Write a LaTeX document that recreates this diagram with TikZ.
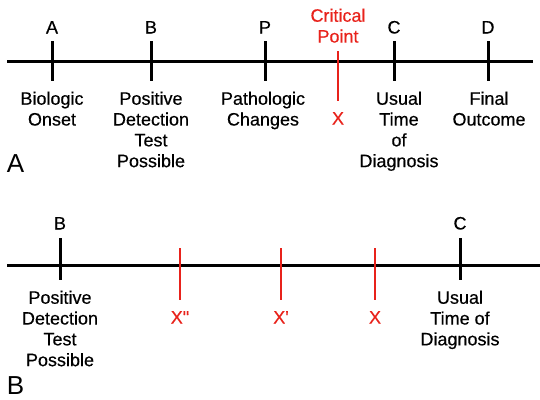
\documentclass[tikz,border=0pt]{standalone}
\usepackage{fontspec}
\setmainfont{Liberation Sans}
\newfontfamily\labfont{Liberation Sans}[FakeBold=0.4]
\definecolor{critred}{RGB}{232,34,27}
\begin{document}
\begin{tikzpicture}[x=1pt,y=-1pt,
  axis/.style={line width=3pt,black},
  blacktick/.style={line width=3pt,black},
  redtick/.style={line width=2.6pt,critred},
  lab/.style={font=\labfont\fontsize{18}{20.8}\selectfont,align=center,inner sep=0pt,anchor=north},
  ticklab/.style={font=\labfont\fontsize{18}{20.8}\selectfont,inner sep=0pt,anchor=base},
  redlab/.style={font=\labfont\fontsize{18}{20.8}\selectfont,inner sep=0pt,anchor=base,text=critred},
  panel/.style={font=\fontsize{26}{30}\selectfont,inner sep=0pt,anchor=base}]
\useasboundingbox (0,0) rectangle (540,399);
% Panel A
\coordinate (aL) at (7,61);
\coordinate (aR) at (533,61);
\draw[axis] (aL) -- (aR);
\foreach \n/\x in {tA/52,tB/151,tP/265,tC/394,tD/488}{
  \coordinate (\n top) at (\x,41);
  \coordinate (\n bot) at (\x,81);
  \draw[blacktick] (\n top) -- (\n bot);
}
\coordinate (tXtop) at (338,51);
\coordinate (tXbot) at (338,101);
\draw[redtick] (tXtop) -- (tXbot);
\node[ticklab] (lA) at (52,33.5) {A};
\node[ticklab] (lB) at (151,33.5) {B};
\node[ticklab] (lP) at (265,33.5) {P};
\node[ticklab] (lC) at (394,33.5) {C};
\node[ticklab] (lD) at (488,33.5) {D};
\node[lab,text=critred] (crit) at (338,8.5) {Critical\\Point};
\node[redlab] (lX) at (338,124.5) {X};
\node[lab] (onset) at (52,91.5) {Biologic\\Onset};
\node[lab] (posA) at (151,91.5) {Positive\\Detection\\Test\\Possible};
\node[lab] (path) at (263,91.5) {Pathologic\\Changes};
\node[lab] (usualA) at (399,91.5) {Usual\\Time\\of\\Diagnosis};
\node[lab] (final) at (489,91.5) {Final\\Outcome};
\node[panel] (pA) at (15.5,172) {A};
% Panel B
\coordinate (bL) at (7,265);
\coordinate (bR) at (540,265);
\draw[axis] (bL) -- (bR);
\foreach \n/\x in {uB/60,uC/460}{
  \coordinate (\n top) at (\x,238);
  \coordinate (\n bot) at (\x,280);
  \draw[blacktick] (\n top) -- (\n bot);
}
\foreach \n/\x in {uX2/180,uX1/281,uX/375}{
  \coordinate (\n top) at (\x,248);
  \coordinate (\n bot) at (\x,300);
  \draw[redtick] (\n top) -- (\n bot);
}
\node[ticklab] (mB) at (60,229.5) {B};
\node[ticklab] (mC) at (460,229.5) {C};
\node[redlab] (mX2) at (180,323.5) {X\symbol{34}};
\node[redlab] (mX1) at (281,323.5) {X\symbol{39}};
\node[redlab] (mX) at (375,323.5) {X};
\node[lab] (posB) at (60,290.5) {Positive\\Detection\\Test\\Possible};
\node[lab] (usualB) at (460,290.5) {Usual\\Time of\\Diagnosis};
\node[panel] (pB) at (15.5,394) {B};
\end{tikzpicture}
\end{document}
